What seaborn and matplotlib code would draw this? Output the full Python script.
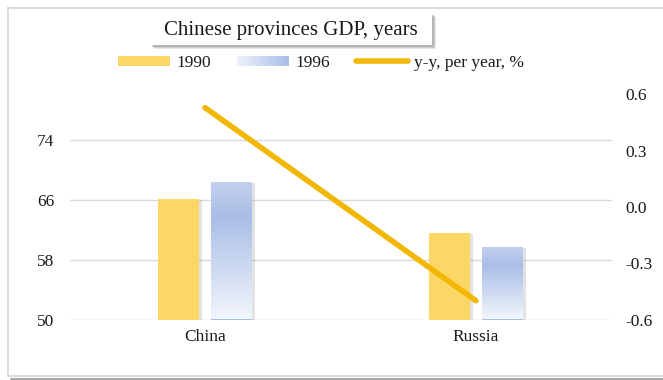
import numpy as np
import pandas as pd
import matplotlib
matplotlib.use("Agg")
import matplotlib.pyplot as plt
import matplotlib.patheffects as pe
from matplotlib.patches import Rectangle
from matplotlib.lines import Line2D
from matplotlib.legend_handler import HandlerBase
from matplotlib.colors import LinearSegmentedColormap
import seaborn as sns

# ---- data ----
countries = ["China", "Russia"]
gdp_1990 = [66.1, 61.6]
gdp_1996 = [68.4, 59.7]
yy_change = [0.53, -0.50]
years = ["1990", "1996"]
left_ticks = [50, 58, 66, 74]
right_ticks = [-0.6, -0.3, 0.0, 0.3, 0.6]

title = "Chinese provinces GDP, years"
line_label = "y-y, per year, %"

# ---- style ----
sns.set_theme(style="white")
plt.rcParams["font.family"] = ["Liberation Serif", "DejaVu Serif"]
TEXT = "#1a1a1a"
GRID = "#d9d9d9"
YELLOW = "#fdd766"
LINE = "#f2b705"
BLUE_TOP = "#c4d1ee"
BLUE_MID = "#a9bee6"
BLUE_BOT = "#f2f5fc"
FS = 12.5

df = pd.DataFrame({
    "country": countries * 2,
    "year": [years[0]] * len(countries) + [years[1]] * len(countries),
    "value": gdp_1990 + gdp_1996,
})

W, H, DPI = 663, 380, 100
fig = plt.figure(figsize=(W / DPI, H / DPI), dpi=DPI)
fig.patch.set_facecolor("white")

ax = fig.add_axes([69.5 / W, 1 - 319.5 / H, 542 / W, 225 / H])
ax.set_facecolor("none")

sns.barplot(data=df, x="country", y="value", hue="year",
            palette=[YELLOW, BLUE_MID], width=0.39, gap=0.23,
            saturation=1, ax=ax, legend=False, zorder=3)

YMIN, YMAX = 50, 80
ax.set_xlim(-0.5, len(countries) - 0.5)
ax.set_ylim(YMIN, YMAX)
ax.set_yticks(left_ticks)
ax.set_xlabel("")
ax.set_ylabel("")
ax.grid(axis="y", color=GRID, linewidth=1.0, zorder=0)
ax.grid(axis="x", visible=False)
for s in ax.spines.values():
    s.set_visible(False)
ax.tick_params(axis="y", length=0, pad=11, labelsize=FS, labelcolor=TEXT)
ax.tick_params(axis="x", length=0, pad=7, labelsize=FS, labelcolor=TEXT)

# soft shadows and a vertical gradient fill for the 1996 bars
cmap = LinearSegmentedColormap.from_list(
    "blue_grad", [(0.0, BLUE_BOT), (0.74, BLUE_MID), (1.0, BLUE_TOP)], N=512)
shadow = [pe.SimplePatchShadow(offset=(2.5, -1.0), shadow_rgbFace="#8c8c8c", alpha=0.25),
          pe.Normal()]
n = len(countries)
bars = list(ax.patches)
for i, bar in enumerate(bars):
    bar.set_edgecolor("none")
    bar.set_path_effects(shadow)
    if i >= n:  # 1996 series
        x0 = bar.get_x()
        w, top = bar.get_width(), bar.get_y() + bar.get_height()
        grad = np.linspace(0, 1, 1024).reshape(-1, 1)
        img = ax.imshow(grad, cmap=cmap, origin="lower", aspect="auto",
                        extent=[x0, x0 + w, YMIN, top], zorder=3.5,
                        interpolation="nearest")
        img.set_clip_path(bar)
ax.set_xlim(-0.5, len(countries) - 0.5)
ax.set_ylim(YMIN, YMAX)

# growth line on the secondary axis
ax2 = ax.twinx()
sns.lineplot(x=np.arange(len(countries)), y=yy_change, ax=ax2, color=LINE,
             linewidth=4, solid_capstyle="round", zorder=5)
ax2.set_ylim(-0.6, 0.6)
ax2.set_yticks(right_ticks)
ax2.set_yticklabels([f"{t:.1f}" for t in right_ticks])
ax2.set_ylabel("")
ax2.grid(False)
for s in ax2.spines.values():
    s.set_visible(False)
ax2.tick_params(axis="y", length=0, pad=10, labelsize=FS, labelcolor=TEXT)


# legend with a gradient swatch for the 1996 series
class GradientHandler(HandlerBase):
    def create_artists(self, legend, orig_handle, xdescent, ydescent,
                       width, height, fontsize, trans):
        steps = 32
        arts = []
        for k in range(steps):
            c = cmap(0.05 + 0.69 * k / (steps - 1))
            r = Rectangle((-xdescent + width * k / steps, -ydescent),
                          width / steps + 0.3, height, facecolor=c,
                          edgecolor="none", transform=trans)
            arts.append(r)
        return arts


h1990 = Rectangle((0, 0), 1, 1, facecolor=YELLOW, edgecolor="none")
h1996 = Rectangle((0, 0), 1, 1, facecolor=BLUE_MID, edgecolor="none")
hline = Line2D([0], [0], color=LINE, linewidth=4, solid_capstyle="round")
fig.legend([h1990, h1996, hline], years + [line_label],
           handler_map={h1996: GradientHandler()},
           loc="center", bbox_to_anchor=(321 / W, 1 - 63 / H), ncol=3,
           frameon=False, fontsize=FS, handlelength=3.0, handleheight=0.5,
           handletextpad=0.35, columnspacing=1.5, labelcolor=TEXT)

# title box with drop shadow
tx0, ty0, tw, th = 150, 13, 282, 32
for k, a in enumerate([0.25, 0.35, 0.5]):
    off = 4 - k
    fig.patches.append(Rectangle(((tx0 + off) / W, 1 - (ty0 + th + off) / H), tw / W, th / H,
                                 transform=fig.transFigure, facecolor="#a0a0a0",
                                 edgecolor="none", alpha=a, zorder=1))
fig.patches.append(Rectangle((tx0 / W, 1 - (ty0 + th) / H), tw / W, th / H,
                             transform=fig.transFigure, facecolor="white",
                             edgecolor="none", zorder=2))
fig.text((tx0 + tw / 2) / W, 1 - (ty0 + th / 2 + 1) / H, title, ha="center",
         va="center", fontsize=15, color=TEXT, zorder=3)


# outer frame of the chart, with a darker edge along the bottom
def frame_line(xs, ys, color, lw):
    fig.add_artist(Line2D([x / W for x in xs], [1 - y / H for y in ys],
                          transform=fig.transFigure, color=color, linewidth=lw,
                          solid_capstyle="butt"))


frame_line([7, W], [7.5, 7.5], "#d9d9d9", 1.3)
frame_line([7.5, 7.5], [7, 376], "#d9d9d9", 1.3)
frame_line([7, W], [376, 376], "#d9d9d9", 1.3)
frame_line([10, W], [378.5, 378.5], "#a6a6a6", 2.2)

fig.savefig("out.png", dpi=DPI, facecolor="white")
